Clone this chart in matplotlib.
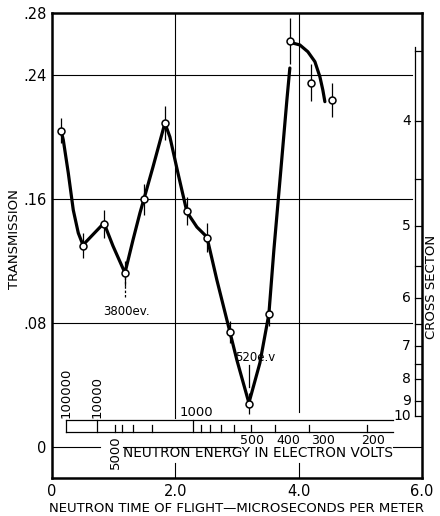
import numpy as np
import matplotlib
matplotlib.use("Agg")
import matplotlib.pyplot as plt

plt.rcParams['font.family'] = ['DejaVu Sans']

# measured points (time of flight in microsec/m, transmission, error half-length)
time_pts = [0.15, 0.50, 0.84, 1.18, 1.49, 1.83, 2.19, 2.51, 2.89, 3.19, 3.52, 3.86, 4.20, 4.54]
trans_pts = [0.204, 0.130, 0.144, 0.112, 0.160, 0.209, 0.152, 0.135, 0.074, 0.028, 0.086, 0.262, 0.235, 0.224]
err_pts = [0.008, 0.008, 0.009, 0.008, 0.010, 0.011, 0.009, 0.0095, 0.007, 0.007, 0.008, 0.015, 0.012, 0.011]

# hand drawn curve
curve1_t = [0.146, 0.183, 0.264, 0.345, 0.426, 0.502, 0.843, 0.989, 1.183, 1.313, 1.426, 1.491,
            1.637, 1.831, 1.912, 2.042, 2.188, 2.350, 2.512, 2.674, 2.885, 2.998, 3.193, 3.371,
            3.517, 3.598, 3.711, 3.809, 3.857]
curve1_T = [0.2045, 0.1981, 0.1768, 0.1529, 0.1381, 0.1303, 0.1445, 0.1297, 0.1123, 0.1335, 0.1510, 0.1600,
            0.1806, 0.2090, 0.2000, 0.1768, 0.1516, 0.1419, 0.1355, 0.1077, 0.0742, 0.0561, 0.0284, 0.0542,
            0.0858, 0.1271, 0.1787, 0.2239, 0.2445]
curve2_t = [3.885, 4.019, 4.149, 4.263, 4.344, 4.392, 4.425]
curve2_T = [0.2608, 0.2594, 0.2550, 0.2486, 0.2389, 0.2303, 0.2228]

# cross section scale on the right
sigma_major = [4, 5, 6, 7, 8, 9, 10]
sigma_minor = [3.5, 4.5, 5.5, 6.5, 7.5]
sigma_k = 0.39

# neutron energy scale (eV)
energy_major = [10000, 1000]
energy_minor = [5000, 4000, 3000, 2000, 900, 800, 700, 600, 500, 400, 300, 200]
energy_below = [500, 400, 300, 200]
energy_below_x = [3.24, 3.84, 4.39, 5.20]   # label positions, as lettered on the original


def t_of_E(E):
    return 72.3 / np.sqrt(E)


def T_of_sigma(s):
    return np.exp(-sigma_k * np.asarray(s))


fig = plt.figure(figsize=(4.4, 5.16), dpi=100)
ax = fig.add_axes([52/440, 38/516, 370/440, 465/516])
ax.set_xlim(0, 6)
ax.set_ylim(-0.02, 0.28)

for s in ax.spines.values():
    s.set_linewidth(1.8)

ax.set_xticks([0, 2, 4, 6])
ax.set_xticklabels(["0", "2.0", "4.0", "6.0"])
ax.set_yticks([0, 0.08, 0.16, 0.24, 0.28])
ax.set_yticklabels(["0", ".08", ".16", ".24", ".28"])
ax.tick_params(length=0, labelsize=10.5, pad=4)

# grid
for g in [0.08, 0.16, 0.24]:
    ax.plot([0, 5.83], [g, g], color='k', lw=0.8)
ax.plot([0, 0.78], [0, 0], color='k', lw=0.8)
ax.plot([1.15, 3.0], [0, 0], color='k', lw=0.8)
ax.plot([5.53, 6.0], [0, 0], color='k', lw=0.8)
for xv, top_end in [(2.0, 0.019), (4.0, 0.0226)]:
    ax.plot([xv, xv], [top_end, 0.28], color='k', lw=0.8)
    ax.plot([xv, xv], [-0.02, -0.0103], color='k', lw=0.8)

# curve and points
ax.plot(curve1_t, curve1_T, color='k', lw=2.3, solid_capstyle='round', zorder=3)
ax.plot(curve2_t, curve2_T, color='k', lw=2.3, solid_capstyle='round', zorder=3)
ax.errorbar(time_pts, trans_pts, yerr=err_pts, fmt='none', ecolor='k', elinewidth=0.9, capsize=0, zorder=4)
ax.plot(time_pts, trans_pts, 'o', ms=5, mfc='white', mec='k', mew=1.1, zorder=5)

# resonance labels
ax.plot([1.183, 1.183], [0.0968, 0.1097], color='k', lw=0.9, ls=(0, (2, 1.5)))
ax.text(1.20, 0.0877, "3800ev.", ha='center', va='center', fontsize=8.5)
ax.plot([3.193, 3.193], [0.0387, 0.0529], color='k', lw=0.9)
ax.text(3.30, 0.058, "520e.v", ha='center', va='center', fontsize=8.5)

# cross section axis
xs = 5.88
ax.plot([xs, xs], [T_of_sigma(3.47), T_of_sigma(10)], color='k', lw=0.9)
for s in sigma_major + sigma_minor:
    ax.plot([xs, 6.0], [T_of_sigma(s)] * 2, color='k', lw=0.9)
for s in sigma_major:
    ax.text(5.82, T_of_sigma(s), str(s), ha='right', va='center', fontsize=10)
ax.text(6.16, 0.103, "CROSS SECTON", rotation=90, ha='center', va='center', fontsize=9.5, clip_on=False)

# energy bar
bt, bb = 0.0174, 0.0097
x_left, x_right = t_of_E(100000), 5.53
ax.plot([x_left, x_right], [bt, bt], color='k', lw=0.9)
ax.plot([x_left, x_right], [bb, bb], color='k', lw=0.9)
ax.plot([x_left, x_left], [bb, bt], color='k', lw=0.9)
for E in energy_major:
    ax.plot([t_of_E(E)] * 2, [bb, bt], color='k', lw=0.9)
for E in energy_minor:
    ax.plot([t_of_E(E)] * 2, [bb, bb + 0.0045], color='k', lw=0.9)
ax.text(t_of_E(100000), 0.019, "100000", rotation=90, ha='center', va='bottom', fontsize=9.5)
ax.text(t_of_E(10000), 0.019, "10000", rotation=90, ha='center', va='bottom', fontsize=9.5)
ax.text(t_of_E(1000) + 0.05, 0.0225, "1000", ha='center', va='center', fontsize=9.5)
ax.text(t_of_E(5000), 0.0072, "5000", rotation=90, ha='center', va='top', fontsize=9.5)
for E, xl in zip(energy_below, energy_below_x):
    ax.text(xl, 0.0045, str(E), ha='center', va='center', fontsize=9)
ax.text(1.15, -0.0039, "NEUTRON ENERGY IN ELECTRON VOLTS", ha='left', va='center', fontsize=9.8)

# axis titles
ax.text(-0.616, 0.134, "TRANSMISSION", rotation=90, ha='center', va='center', fontsize=9.5, clip_on=False)
ax.text(2.99, -0.0395, "NEUTRON TIME OF FLIGHT\u2014MICROSECONDS PER METER", ha='center', va='center',
        fontsize=9.5, clip_on=False)

fig.savefig("out.png", dpi=100)
